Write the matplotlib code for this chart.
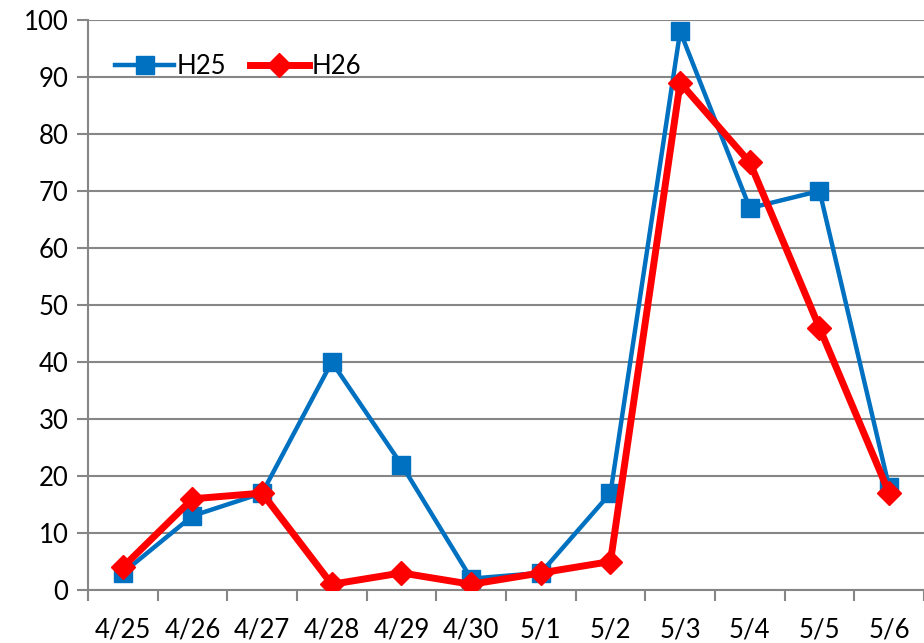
import matplotlib.pyplot as plt
from matplotlib.ticker import FixedLocator

# data
dates = ['4/25', '4/26', '4/27', '4/28', '4/29', '4/30',
         '5/1', '5/2', '5/3', '5/4', '5/5', '5/6']
h25 = [3, 13, 17, 40, 22, 2, 3, 17, 98, 67, 70, 18]
h26 = [4, 16, 17, 1, 3, 1, 3, 5, 89, 75, 46, 17]

plt.rcParams['font.family'] = ['Lato', 'DejaVu Sans']
grey = '#868686'

fig = plt.figure(figsize=(9.24, 6.43), dpi=100)
ax = fig.add_axes([0.0952, 0.0824, 0.9048, 0.8866])

x = list(range(len(dates)))
ax.plot(x, h25, color='#0070C0', lw=3.2, marker='s', ms=13,
        label='H25', zorder=3)
ax.plot(x, h26, color='#FF0000', lw=5, marker='D', ms=12,
        label='H26', zorder=4)

ax.set_xlim(-0.5, len(dates) - 0.5)
ax.set_ylim(0, 100)
ax.set_yticks(range(0, 101, 10))
ax.set_xticks(x)
ax.set_xticklabels(dates)
ax.xaxis.set_minor_locator(FixedLocator([i - 0.5 for i in range(len(dates) + 1)]))
ax.tick_params(axis='x', which='major', length=0, pad=20, labelsize=18.5)
ax.tick_params(axis='x', which='minor', length=8, width=1.5, color=grey)
ax.tick_params(axis='y', length=8, width=1.5, color=grey, pad=6, labelsize=18.5)

ax.grid(axis='y', color=grey, lw=1.5)
ax.set_axisbelow(True)
for s in ['top', 'right']:
    ax.spines[s].set_visible(False)
for s in ['left', 'bottom']:
    ax.spines[s].set_color(grey)
    ax.spines[s].set_linewidth(1.5)

ax.legend(loc='upper left', bbox_to_anchor=(0.005, 0.98), ncol=2, frameon=False,
          fontsize=18.5, handlelength=2.3, handletextpad=0.1, columnspacing=0.9,
          markerscale=1.0)

fig.savefig('out.png', dpi=100)
